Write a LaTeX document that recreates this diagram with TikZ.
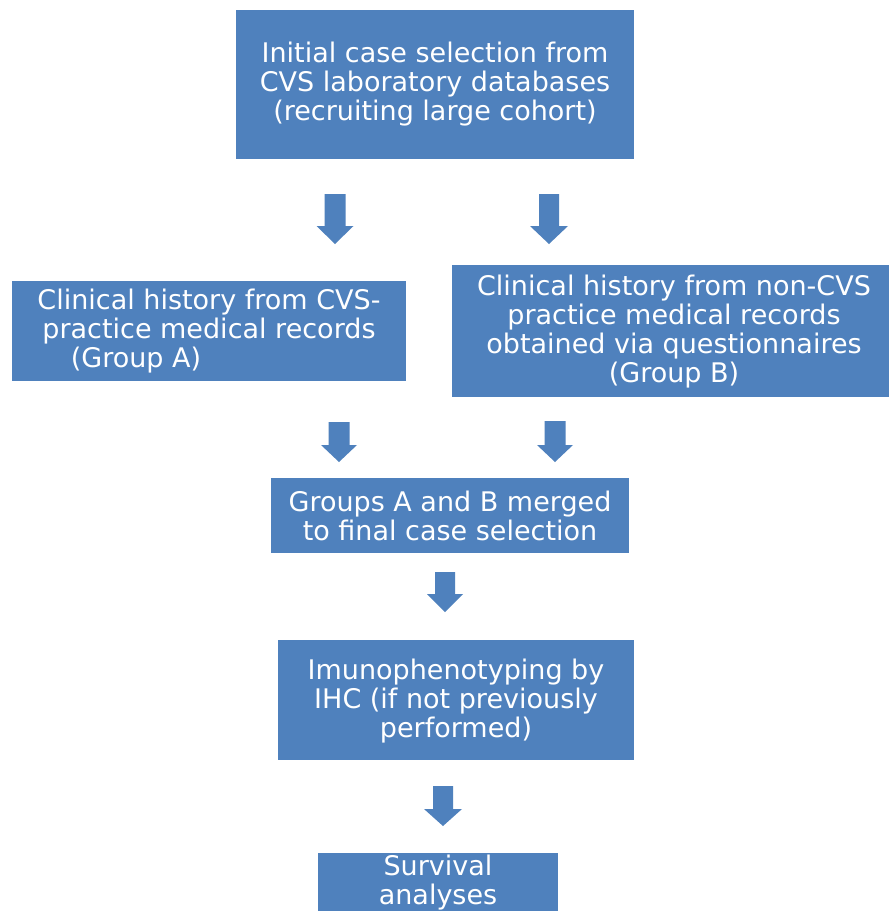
\documentclass[tikz,border=0pt]{standalone}
\usepackage{fontspec}
\setmainfont{DejaVu Sans}
\definecolor{boxblue}{HTML}{4F81BD}
\tikzset{
  x=1pt, y=-1pt,
  flowbox/.style={fill=boxblue, draw=none, text=white, align=center, inner sep=0pt,
    font=\fontsize{27}{29}\selectfont},
  blockarrow/.style={fill=boxblue, draw=none}
}
% \barrow{center x}{top y}{head start y}{tip y}{half shaft}{half head}
\newcommand\barrow[6]{%
  \fill[blockarrow] (#1-#5,#2) -- (#1+#5,#2) -- (#1+#5,#3) -- (#1+#6,#3) -- (#1,#4)
    -- (#1-#6,#3) -- (#1-#5,#3) -- cycle;}
\begin{document}
\begin{tikzpicture}
\useasboundingbox (0,0) rectangle (889,911);
\fill[white] (0,0) rectangle (889,911);
% boxes
\fill[boxblue] (236,10) rectangle (634,159);
\node[flowbox] (b1) at (435,84.5) {Initial case selection from\\CVS laboratory databases\\(recruiting large cohort)};
\fill[boxblue] (12,281) rectangle (406,381);
\node[flowbox] (b2) at (209,331) {Clinical history from CVS-\\practice medical records\\(Group A)\hspace*{146pt}};
\fill[boxblue] (452,265) rectangle (889,397);
\node[flowbox] (b3) at (674,332) {Clinical history from non-CVS\\practice medical records\\obtained via questionnaires\\(Group B)};
\fill[boxblue] (271,478) rectangle (629,553);
\node[flowbox] (b4) at (450,516) {Groups A and B merged\\to final case selection};
\fill[boxblue] (278,640) rectangle (634,760);
\node[flowbox] (b5) at (456,701) {Imunophenotyping by\\IHC (if not previously\\performed)};
\fill[boxblue] (318,853) rectangle (558,911);
\node[flowbox] (b6) at (438,883) {Survival\\analyses};
% arrows
\barrow{335}{194}{226}{244}{10.5}{18.5}
\barrow{549}{194}{226}{244}{10}{19}
\barrow{339}{422}{445}{462}{10.5}{18}
\barrow{555}{421}{445}{462}{10.5}{18}
\barrow{445}{572}{594}{612}{10}{18}
\barrow{443}{786}{809}{826}{10}{19}
\end{tikzpicture}
\end{document}
